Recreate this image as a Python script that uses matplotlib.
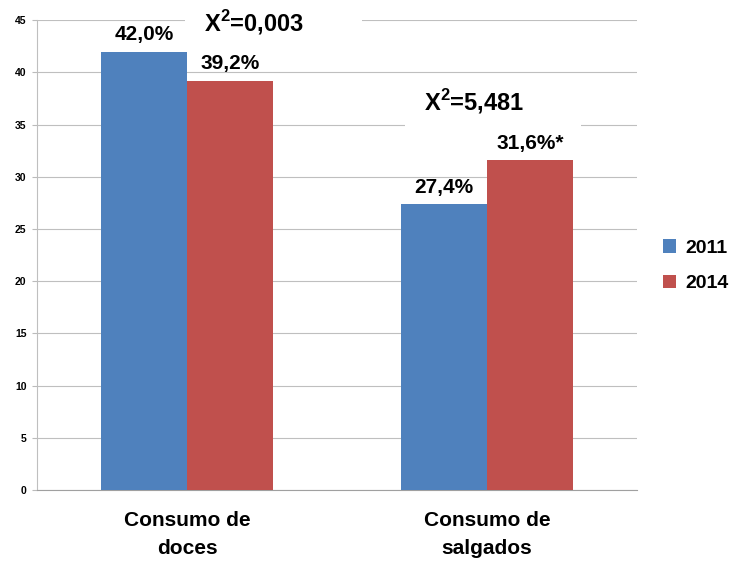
import matplotlib
matplotlib.use("Agg")
import matplotlib.pyplot as plt
import numpy as np
from matplotlib.patches import Rectangle

categories = ["Consumo de\ndoces", "Consumo de\nsalgados"]
series_names = ["2011", "2014"]
values_2011 = [42.0, 27.4]
values_2014 = [39.2, 31.6]
labels_2011 = ["42,0%", "27,4%"]
labels_2014 = ["39,2%", "31,6%*"]
chi_labels = [r"X$^{\mathbf{2}}$=0,003", r"X$^{\mathbf{2}}$=5,481"]
yticks = [0, 5, 10, 15, 20, 25, 30, 35, 40, 45]

font = "Liberation Sans"
plt.rcParams['font.family'] = [font, 'DejaVu Sans']
plt.rcParams['mathtext.fontset'] = 'custom'
plt.rcParams['mathtext.rm'] = font
plt.rcParams['mathtext.bf'] = font + ':bold'

blue = "#4F81BD"
red = "#C0504D"

fig = plt.figure(figsize=(7.4, 5.62), dpi=100)
ax = fig.add_axes([0.05, 0.128, 0.811, 0.836])

x = np.arange(len(categories))
w = 0.287
b1 = ax.bar(x - w/2, values_2011, w, color=blue, label=series_names[0], zorder=3)
b2 = ax.bar(x + w/2, values_2014, w, color=red, label=series_names[1], zorder=3)

ax.set_xlim(-0.5, 1.5)
ax.set_ylim(0, 45)
ax.set_yticks(yticks)
ax.set_yticklabels([str(t) for t in yticks], fontsize=7.5, fontweight='bold')
ax.tick_params(axis='y', length=3.5, color='#BBBBBB', pad=4)
ax.tick_params(axis='x', length=0, pad=15)
ax.set_xticks(x)
ax.set_xticklabels(categories, fontsize=15, fontweight='bold', linespacing=1.6)
ax.yaxis.grid(True, color='#BFBFBF', linewidth=0.8)
ax.set_axisbelow(True)
for s in ['top', 'right']:
    ax.spines[s].set_visible(False)
ax.spines['left'].set_color('#BFBFBF')
ax.spines['bottom'].set_color('#A0A0A0')

for bars, labs in ((b1, labels_2011), (b2, labels_2014)):
    for r, lab in zip(bars, labs):
        ax.text(r.get_x() + r.get_width()/2, r.get_height() + 0.7, lab,
                ha='center', va='bottom', fontsize=15, fontweight='bold', zorder=5)

# white boxes interrupting gridlines behind the chi-square labels
ax.add_patch(Rectangle((-0.007, 43.6), 0.59, 2.6, facecolor='white', edgecolor='none',
                       zorder=2, clip_on=False))
ax.add_patch(Rectangle((0.727, 34.0), 0.586, 2.0, facecolor='white', edgecolor='none',
                       zorder=2))
ax.text(0.223, 44.8, chi_labels[0], ha='center', va='center', fontsize=17, fontweight='bold',
        zorder=6)
ax.text(0.957, 37.2, chi_labels[1], ha='center', va='center', fontsize=17, fontweight='bold',
        zorder=6)

fig.legend(handles=[b1, b2], labels=series_names, loc='center left',
           bbox_to_anchor=(0.872, 0.527), frameon=False,
           prop={'weight': 'bold', 'size': 14},
           handlelength=0.7, handleheight=0.7, handletextpad=0.45, labelspacing=0.9)

fig.savefig("out.png", dpi=100)
